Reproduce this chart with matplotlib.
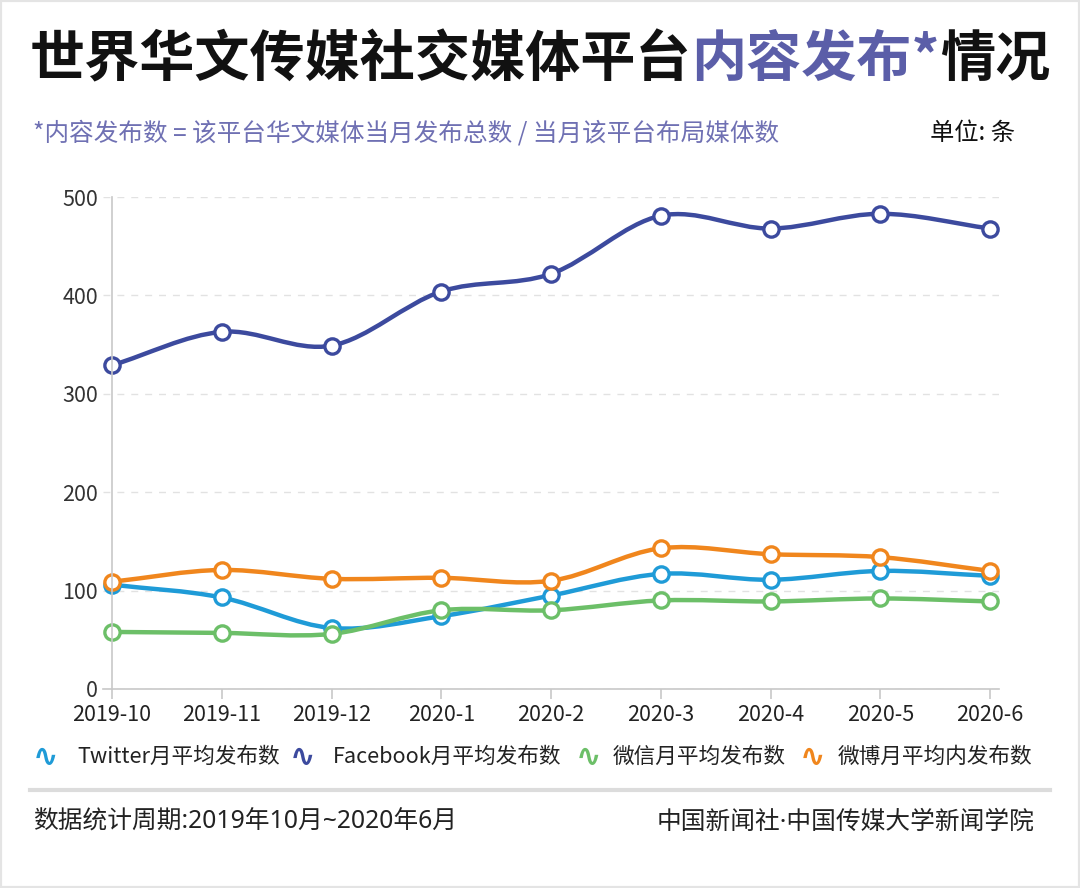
import matplotlib
matplotlib.use('Agg')
import matplotlib.pyplot as plt
from matplotlib.path import Path
from matplotlib.patches import PathPatch, Rectangle
from matplotlib.lines import Line2D

plt.rcParams['font.family'] = ['Noto Sans CJK SC', 'DejaVu Sans']
plt.rcParams['axes.unicode_minus'] = False

# 数据
months = ['2019-10', '2019-11', '2019-12', '2020-1', '2020-2',
          '2020-3', '2020-4', '2020-5', '2020-6']
twitter = [106, 93, 62, 74, 95, 117, 111, 120, 115]
facebook = [329, 363, 349, 404, 422, 481, 468, 483, 468]
weixin = [58, 57, 56, 80, 80, 90, 89, 92, 89]
weibo = [109, 121, 112, 113, 110, 143, 137, 134, 120]

series_names = ['Twitter月平均发布数', 'Facebook月平均发布数', '微信月平均发布数', '微博月平均内发布数']
series_values = [twitter, facebook, weixin, weibo]
series_colors = ['#1f9bd7', '#3c4a9e', '#6cbf68', '#f0861d']


def smooth_path(ys):
    # Catmull-Rom 曲线 -> 贝塞尔控制点（数据坐标）
    n = len(ys)
    xs = list(range(n))
    d = []
    for i in range(n):
        a = max(i - 1, 0)
        b = min(i + 1, n - 1)
        d.append((ys[b] - ys[a]) / (b - a))
    verts = [(xs[0], ys[0])]
    codes = [Path.MOVETO]
    for i in range(n - 1):
        verts += [(xs[i] + 1 / 3, ys[i] + d[i] / 3),
                  (xs[i + 1] - 1 / 3, ys[i + 1] - d[i + 1] / 3),
                  (xs[i + 1], ys[i + 1])]
        codes += [Path.CURVE4] * 3
    return Path(verts, codes)


fig = plt.figure(figsize=(10.8, 8.88), dpi=100)
ax = fig.add_axes([0.0956, 0.2241, 0.8293, 0.554])

for name, vals, col in zip(series_names, series_values, series_colors):
    patch = PathPatch(smooth_path(vals), facecolor='none', edgecolor=col,
                      lw=3.2, capstyle='round', joinstyle='round',
                      transform=ax.transData)
    ax.add_patch(patch)
    ax.plot(range(len(vals)), vals, linestyle='none', marker='o', ms=11,
            mfc='white', mec=col, mew=2.4, zorder=patch.get_zorder() + 0.1)

ax.set_xlim(-0.08, 8.08)
ax.set_ylim(0, 500)
ax.set_xticks(range(len(months)))
ax.set_xticklabels(months, fontsize=15.5, color='#222222')
ax.set_yticks([0, 100, 200, 300, 400, 500])
ax.tick_params(axis='y', length=0, labelsize=15.5, labelcolor='#333333', pad=10)
ax.tick_params(axis='x', length=7, color='#c8c8c8', width=1.2, pad=4)
for lab in ax.get_yticklabels():
    lab.set_verticalalignment('bottom')

ax.yaxis.grid(True, linestyle=(0, (5, 5)), color='#e2e2e2', lw=1)
ax.set_axisbelow(True)
for s in ['top', 'right']:
    ax.spines[s].set_visible(False)
ax.spines['left'].set_position(('data', 0))
ax.spines['left'].set_color('#c8c8c8')
ax.spines['bottom'].set_color('#c8c8c8')
ax.spines['left'].set_linewidth(1.2)
ax.spines['bottom'].set_linewidth(1.2)

# 标题（分段着色）
title_y = 0.932
t1 = fig.text(0.0278, title_y, '世界华文传媒社交媒体平台', fontsize=39.7,
              fontweight='bold', color='#111111', va='center', ha='left')
t2 = fig.text(0, 0, '内容发布*', fontsize=39.7, fontweight='bold', color='#5b5ea8',
              va='center', ha='left')
t3 = fig.text(0, 0, '情况', fontsize=39.7, fontweight='bold', color='#111111',
              va='center', ha='left')
fig.canvas.draw()
r = fig.canvas.get_renderer()
bb1 = t1.get_window_extent(r)
t2.set_position((bb1.x1 / fig.bbox.width, title_y))
fig.canvas.draw()
bb2 = t2.get_window_extent(r)
t3.set_position((bb2.x1 / fig.bbox.width, title_y))

fig.text(0.0306, 0.850, '*内容发布数 = 该平台华文媒体当月发布总数 / 当月该平台布局媒体数',
         fontsize=17.7, color='#6f70b3', va='center', ha='left')
fig.text(0.940, 0.850, '单位: 条', fontsize=17.5, color='#111111', va='center', ha='right')

# 图例
icon_x = [0.042, 0.280, 0.545, 0.752]
label_x = [0.072, 0.308, 0.567, 0.776]
for name, col, ix, lx in zip(series_names, series_colors, icon_x, label_x):
    fig.text(ix, 0.1475, '∿', fontsize=22, color=col, fontweight='bold',
             family='DejaVu Sans', va='center', ha='center')
    fig.text(lx, 0.1475, name, fontsize=15.6, color='#222222', va='center', ha='left')

fig.add_artist(Line2D([0.028, 0.972], [0.1104, 0.1104], transform=fig.transFigure,
                      color='#dcdcdc', lw=3))

footer_fonts = ['Noto Sans', 'Noto Sans CJK SC']
fig.text(0.0306, 0.0743, '数据统计周期:2019年10月~2020年6月', fontsize=17.8,
         color='#222222', va='center', ha='left', family=footer_fonts)
fig.text(0.958, 0.0743, '中国新闻社·中国传媒大学新闻学院', fontsize=17.8,
         color='#222222', va='center', ha='right', family=footer_fonts)

fig.add_artist(Rectangle((0, 0), 1, 1, transform=fig.transFigure, fill=False,
                         edgecolor='#e4e4e4', lw=3))

fig.savefig('out.png', dpi=100)
